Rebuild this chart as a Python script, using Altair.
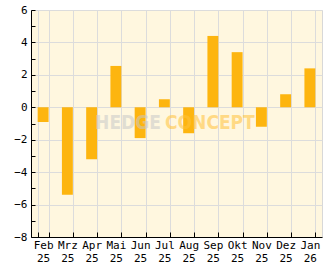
import altair as alt
import pandas as pd

months = ["Feb 25", "Mrz 25", "Apr 25", "Mai 25", "Jun 25", "Jul 25",
          "Aug 25", "Sep 25", "Okt 25", "Nov 25", "Dez 25", "Jan 26"]
values = [-0.9, -5.4, -3.2, 2.55, -1.9, 0.5, -1.6, 4.4, 3.4, -1.2, 0.8, 2.4]

df = pd.DataFrame({"month": months, "value": values})

FONT = "DejaVu Sans Mono"

x_enc = alt.X("month:N", sort=None, title=None,
              scale=alt.Scale(paddingInner=0.55, paddingOuter=0.275),
              axis=alt.Axis(labelAngle=0, tickBand="extent", grid=True,
                            labelExpr="split(datum.label, ' ')",
                            labelFont=FONT, labelFontSize=11, labelColor="#000",
                            labelPadding=7, labelLineHeight=13,
                            tickSize={"expr": "-5"}, tickColor="#000",
                            domainColor="#000", gridColor="#dcdcdc"))
y_enc = alt.Y("value:Q", title=None,
              scale=alt.Scale(domain=[-8, 6], nice=False),
              axis=alt.Axis(values=list(range(-8, 7)),
                            labelExpr="datum.value % 2 === 0 ? datum.label : ''",
                            labelFont=FONT, labelFontSize=11, labelColor="#000",
                            labelPadding=8,
                            tickSize={"expr": "-4"}, tickColor="#000",
                            domainColor="#000", gridColor="#dcdcdc",
                            gridOpacity={"condition": {"test": "datum.value % 2 !== 0", "value": 0}, "value": 1}))

bars = alt.Chart(df).mark_bar(color="#fdb50f").encode(x=x_enc, y=y_enc)

wm1 = alt.Chart(pd.DataFrame({"t": ["HEDGE"]})).mark_text(
    font="DejaVu Sans Condensed", fontWeight="bold", fontSize=19,
    color="#c8c8c8", opacity=0.55, align="right", baseline="middle"
).encode(text="t:N", x=alt.value(130), y=alt.value(113))
wm2 = alt.Chart(pd.DataFrame({"t": ["CONCEPT"]})).mark_text(
    font="DejaVu Sans Condensed", fontWeight="bold", fontSize=19,
    color="#ffc23a", opacity=0.55, align="left", baseline="middle"
).encode(text="t:N", x=alt.value(134), y=alt.value(113))

chart = alt.layer(bars, wm1, wm2).properties(
    width=291, height=227,
    autosize=alt.AutoSizeParams(type="none"),
    padding={"left": 31, "top": 10, "right": 10, "bottom": 32},
    background="white",
).configure_view(fill="#fff7df", stroke="#d8d8d8", strokeWidth=1)

chart.save("out.html", embed_options={"renderer": "svg", "actions": False})
